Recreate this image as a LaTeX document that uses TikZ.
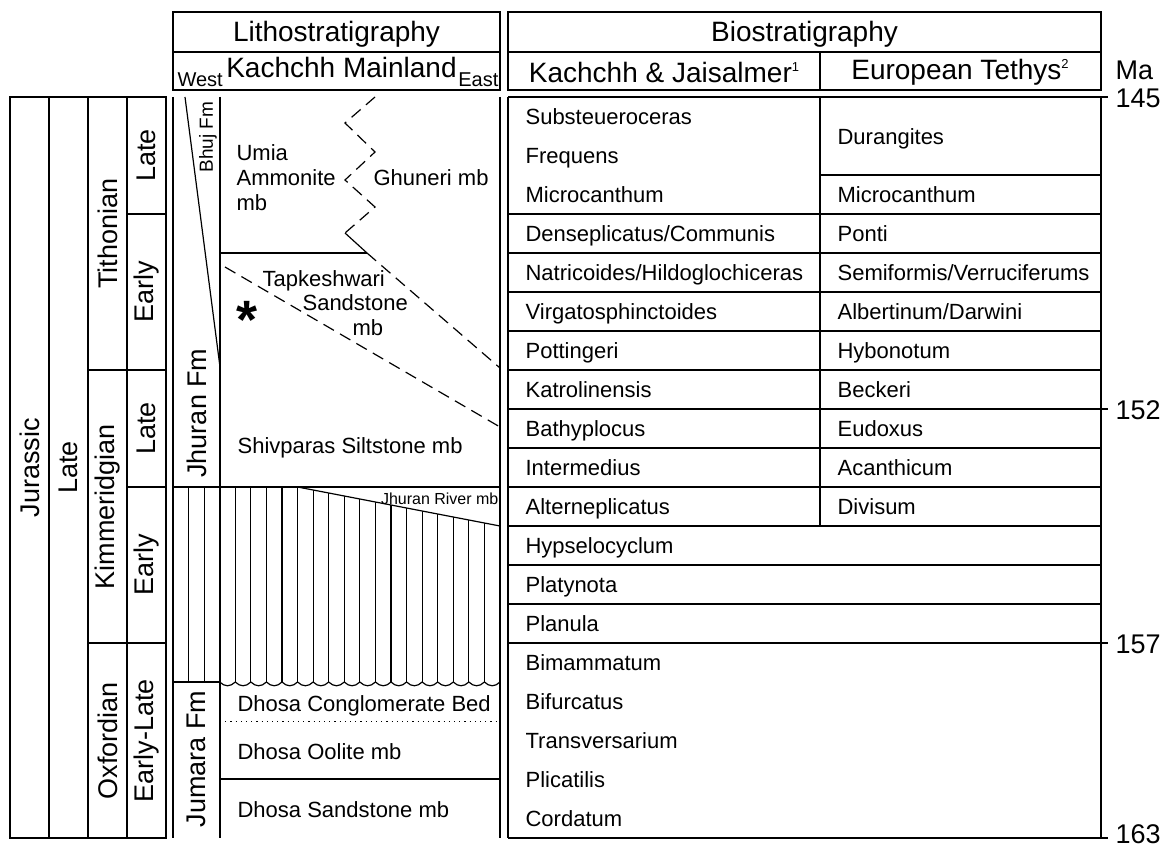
\documentclass[tikz,border=0pt]{standalone}
\usepackage{fontspec}
\setmainfont{Liberation Sans}
\newcommand\supnum[1]{\raisebox{11pt}{\fontsize{13}{13}\selectfont #1}}

\begin{document}
\begin{tikzpicture}[
  x=1pt,y=-1pt,
  line width=1.2pt,
  every node/.style={inner sep=0pt},
  txt/.style={font=\fontsize{22}{26}\selectfont},
  lt/.style={txt,anchor=base west},
  head/.style={font=\fontsize{28}{32}\selectfont},
  vtxt/.style={rotate=90,font=\fontsize{27}{32}\selectfont},
  age/.style={anchor=base west,font=\fontsize{27}{32}\selectfont},
  bnd/.style={dash pattern=on 12pt off 7pt}
]
  \useasboundingbox (0,0) rectangle (1166,848);

  % headers
  \draw (173,12) rectangle (500,52);
  \draw (173,52) rectangle (500,90);
  \draw (508,12) rectangle (1101,52);
  \draw (508,52) rectangle (820,90);
  \draw (820,52) rectangle (1101,90);
  \node[head] (litho) at (336.5,34) {Lithostratigraphy};
  \node[head] (kmain) at (341.5,67) {Kachchh Mainland};
  \node[font=\fontsize{20}{24}\selectfont,anchor=base west] (west) at (177,87) {West};
  \node[font=\fontsize{20}{24}\selectfont,anchor=base east] (east) at (499,87) {East};
  \node[head] (bio) at (804.5,34) {Biostratigraphy};
  \node[head] (kj) at (664,72) {Kachchh \& Jaisalmer\supnum{1}};
  \node[head] (et) at (960,72) {European Tethys\supnum{2}};

  % chronostratigraphy
  \draw (10,97) rectangle (166,838);
  \draw (49,97) -- (49,838);
  \draw (88,97) -- (88,838);
  \draw (127,97) -- (127,838);
  \draw (88,370) -- (166,370);
  \draw (88,643) -- (166,643);
  \draw (127,214) -- (166,214);
  \draw (127,487) -- (166,487);
  \node[vtxt] (jur) at (29.5,467.5) {Jurassic};
  \node[vtxt] (late) at (68.5,467.5) {Late};
  \node[vtxt] (tith) at (107.5,233.5) {Tithonian};
  \node[vtxt] (kimm) at (107.5,506.5) {Kimmeridgian};
  \node[vtxt] (oxf) at (107.5,740.5) {Oxfordian};
  \node[vtxt] (tl) at (146.5,155.5) {Late};
  \node[vtxt] (te) at (146.5,292) {Early};
  \node[vtxt] (kl) at (146.5,428.5) {Late};
  \node[vtxt] (ke) at (146.5,565) {Early};
  \node[vtxt] (oel) at (146.5,740.5) {Early-Late};

  % lithostratigraphy
  \foreach \k in {1,...,20}
    \draw ({173+\k*15.571},487) -- ({173+\k*15.571},682);
  \fill[white] (297.6,487) -- (500,487) -- (500,526) -- cycle;
  \draw (297.6,487) -- (500,526);
  \foreach \k in {3,...,20}
    \draw ({173+\k*15.571},682) .. controls +(5,5) and +(-5,5) .. ({173+(\k+1)*15.571},682);
  \draw (173,97) -- (173,838);
  \draw (500,97) -- (500,838);
  \draw (220,97) -- (220,838);
  \draw (173,487) -- (500,487);
  \draw (173,682) -- (220,682);
  \draw (185,97) -- (220,367);
  \draw (220,253) -- (367,253);
  \draw[bnd] (375,97) -- (345,123) -- (375,152) -- (345,180) -- (375,207) -- (345,233);
  \draw (345,233) -- (367,253);
  \draw[bnd] (367,253) -- (500,368);
  \draw[bnd] (225,267) -- (500,427);
  \draw[line width=1pt,dash pattern=on 1.2pt off 4pt] (220,721) -- (500,721);
  \draw (220,779) -- (500,779);

  \node[vtxt,font=\fontsize{19}{22}\selectfont] (bhuj) at (208,137) {Bhuj Fm};
  \node[vtxt] (jhuran) at (196.5,413) {Jhuran Fm};
  \node[vtxt] (jumara) at (196.5,759) {Jumara Fm};
  \node[lt] (umia1) at (236,160) {Umia};
  \node[lt] (umia2) at (236,185) {Ammonite};
  \node[lt] (umia3) at (236,210) {mb};
  \node[lt] (ghun) at (373,185) {Ghuneri mb};
  \node[lt] (tap1) at (262,286) {Tapkeshwari};
  \node[lt] (tap2) at (302,310) {Sandstone};
  \node[lt] (tap3) at (352,335) {mb};
  \node[font=\fontsize{54}{54}\selectfont\bfseries] (star) at (247,320) {*};
  \node[lt] (shiv) at (237,453) {Shivparas Siltstone mb};
  \node[font=\fontsize{16}{18}\selectfont,anchor=base east] (jriver) at (499,504) {Jhuran River mb};
  \node[lt] (dcong) at (237,711) {Dhosa Conglomerate Bed};
  \node[lt] (dool) at (237,759) {Dhosa Oolite mb};
  \node[lt] (dsand) at (237,817) {Dhosa Sandstone mb};

  % biostratigraphy
  \draw (508,97) -- (508,838);
  \draw (1101,97) -- (1101,838);
  \draw (508,97) -- (1108,97);
  \draw (508,838) -- (1108,838);
  \draw (820,97) -- (820,526);
  \draw (820,175) -- (1101,175);
  \foreach \y in {214,253,...,604}
    \draw (508,\y) -- (1101,\y);
  \draw (508,643) -- (1108,643);
  \draw (1101,409) -- (1108,409);

  \node[lt] (b1) at (525,124.5) {Substeueroceras};
  \node[lt] (b2) at (525,163.5) {Frequens};
  \node[lt] (b3) at (525,202.5) {Microcanthum};
  \node[lt] (b4) at (525,241.5) {Denseplicatus/Communis};
  \node[lt] (b5) at (525,280.5) {Natricoides/Hildoglochiceras};
  \node[lt] (b6) at (525,319.5) {Virgatosphinctoides};
  \node[lt] (b7) at (525,358.5) {Pottingeri};
  \node[lt] (b8) at (525,397.5) {Katrolinensis};
  \node[lt] (b9) at (525,436.5) {Bathyplocus};
  \node[lt] (b10) at (525,475.5) {Intermedius};
  \node[lt] (b11) at (525,514.5) {Alterneplicatus};
  \node[lt] (b12) at (525,553.5) {Hypselocyclum};
  \node[lt] (b13) at (525,592.5) {Platynota};
  \node[lt] (b14) at (525,631.5) {Planula};
  \node[lt] (b15) at (525,670.5) {Bimammatum};
  \node[lt] (b16) at (525,709.5) {Bifurcatus};
  \node[lt] (b17) at (525,748.5) {Transversarium};
  \node[lt] (b18) at (525,787.5) {Plicatilis};
  \node[lt] (b19) at (525,826.5) {Cordatum};

  \node[lt] (e1) at (837,144) {Durangites};
  \node[lt] (e2) at (837,202.5) {Microcanthum};
  \node[lt] (e3) at (837,241.5) {Ponti};
  \node[lt] (e4) at (837,280.5) {Semiformis/Verruciferums};
  \node[lt] (e5) at (837,319.5) {Albertinum/Darwini};
  \node[lt] (e6) at (837,358.5) {Hybonotum};
  \node[lt] (e7) at (837,397.5) {Beckeri};
  \node[lt] (e8) at (837,436.5) {Eudoxus};
  \node[lt] (e9) at (837,475.5) {Acanthicum};
  \node[lt] (e10) at (837,514.5) {Divisum};

  % ages
  \node[age] (ma) at (1115,80) {Ma};
  \node[age] (a145) at (1115,108) {145};
  \node[age] (a152) at (1115,419) {152};
  \node[age] (a157) at (1115,653) {157};
  \node[age] (a163) at (1115,843) {163};
\end{tikzpicture}
\end{document}
